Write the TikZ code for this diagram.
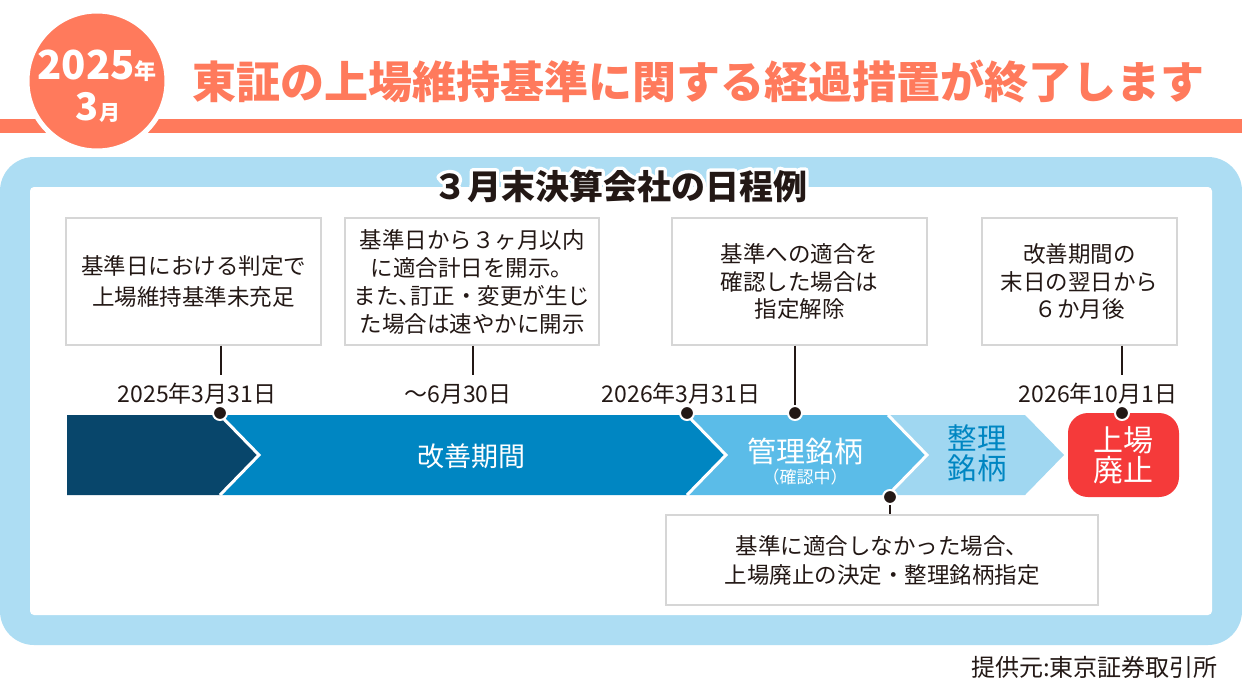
\documentclass[tikz,border=0pt]{standalone}
\usepackage{fontspec}
\setmainfont{Noto Sans CJK JP}
\newfontfamily\halofont{Noto Sans CJK JP}[FakeBold=20]
\usetikzlibrary{calc}
\definecolor{hdrorange}{HTML}{FF7A5C}
\definecolor{frameblue}{HTML}{ADDDF3}
\definecolor{navy}{HTML}{08466B}
\definecolor{midblue}{HTML}{0086C2}
\definecolor{ltblue}{HTML}{5BBCE8}
\definecolor{lterblue}{HTML}{A0D7F1}
\definecolor{alertred}{HTML}{F53A3A}
\definecolor{ink}{HTML}{231815}
\definecolor{boxgray}{HTML}{D6D6D6}
\tikzset{
  infobox/.style={draw=boxgray, line width=1.3, fill=white, align=center, text=ink, inner sep=0pt},
  boxfont/.style={font=\fontsize{22.5}{#1}\selectfont},
  datelbl/.style={text=ink, inner sep=0pt, font=\fontsize{23}{23}\selectfont},
  conn/.style={draw=ink, line width=2},
  tdot/.style={circle, fill=ink, draw=white, line width=2, minimum size=14, inner sep=0pt},
  bandtxt/.style={text=white, inner sep=0pt, align=center},
  sepline/.style={draw=white, line width=3, line join=miter},
}
\begin{document}
\begin{tikzpicture}[x=1pt,y=-1pt]
\useasboundingbox (0,0) rectangle (1242,683);
\fill[white] (0,0) rectangle (1242,683);

% header
\fill[hdrorange] (0,119) rectangle (1242,133);
\node[circle, fill=hdrorange, draw=white, line width=5, minimum size=140, inner sep=0pt] (badge) at (97,81) {};
\node[text=white, inner sep=0pt, font=\bfseries\fontsize{40}{40}\selectfont] (yr) at (97,66) {2025{\fontsize{22}{22}\selectfont 年}};
\node[text=white, inner sep=0pt, font=\bfseries\fontsize{38}{38}\selectfont] (mo) at (98,107) {3{\fontsize{21}{21}\selectfont 月}};
\node[text=hdrorange, inner sep=0pt, font=\bfseries\fontsize{44}{44}\selectfont] (title) at (698,82) {東証の上場維持基準に関する経過措置が終了します};

% frame
\fill[frameblue, rounded corners=34] (0,157) rectangle (1242,645);
\fill[white, rounded corners=4] (30,187) rectangle (1212,615);
\node[text=white, inner sep=0pt, font=\halofont\bfseries\fontsize{34}{34}\selectfont] (subhalo) at (620,186) {\pgfsetroundjoin ３月末決算会社の日程例};
\node[text=ink, inner sep=0pt, font=\bfseries\fontsize{34}{34}\selectfont] (sub) at (620,186) {３月末決算会社の日程例};

% band
\fill[navy] (67,415) -- (220,415) -- (259,455) -- (220,495) -- (67,495) -- cycle;
\fill[midblue] (220,415) -- (687,415) -- (726,455) -- (687,495) -- (220,495) -- (259,455) -- cycle;
\fill[ltblue] (687,415) -- (888,415) -- (927,455) -- (888,495) -- (687,495) -- (726,455) -- cycle;
\fill[lterblue] (888,415) -- (1025,415) -- (1064,455) -- (1025,495) -- (888,495) -- (927,455) -- cycle;
\draw[sepline] (220,415) -- (259,455) -- (220,495);
\draw[sepline] (687,415) -- (726,455) -- (687,495);
\draw[sepline] (888,415) -- (927,455) -- (888,495);
\node[rounded corners=20, fill=alertred, minimum width=111, minimum height=84, text=white, align=center, inner sep=0pt, font=\fontsize{30}{30}\selectfont] (haishi) at (1123.5,455) {上場\\廃止};

\node[bandtxt, font=\fontsize{27}{27}\selectfont] (kaizen) at (471,456) {改善期間};
\node[bandtxt, font=\fontsize{29}{29}\selectfont] (kanri) at (805,451) {管理銘柄};
\node[bandtxt, font=\fontsize{17}{17}\selectfont] (kakunin) at (805,477) {（確認中）};
\node[bandtxt, text=midblue, font=\fontsize{29.5}{30}\selectfont] (seiri) at (977,453) {整理\\銘柄};

% boxes
\node[infobox, boxfont=31, minimum width=255, minimum height=127] (b1) at (193.5,281.5) {基準日における判定で\\上場維持基準未充足};
\node[infobox, boxfont=28, minimum width=254, minimum height=127] (b2) at (472,281.5) {基準日から３ヶ月以内\\に適合計日を開示。\\また\makebox[0.5em][l]{、}訂正・変更が生じ\\た場合は速やかに開示};
\node[infobox, boxfont=27.5, minimum width=255, minimum height=127] (b3) at (799.5,281.5) {基準への適合を\\確認した場合は\\指定解除};
\node[infobox, boxfont=27.5, minimum width=195, minimum height=127] (b4) at (1079.5,281.5) {改善期間の\\末日の翌日から\\６か月後};
\node[infobox, boxfont=29, minimum width=432, minimum height=90] (b5) at (882,560) {基準に適合しなかった場合、\\上場廃止の決定・整理銘柄指定};

% dates
\node[datelbl] (t1) at (197,394) {2025年3月31日};
\node[datelbl] (t2) at (458,394) {～6月30日};
\node[datelbl] (t3) at (681,394) {2026年3月31日};
\node[datelbl] (t4) at (1098,394) {2026年10月1日};

% dots
\node[tdot] (d1) at (220,413) {};
\node[tdot] (d2) at (687,413) {};
\node[tdot] (d3) at (795,413) {};
\node[tdot] (d4) at (1122,413) {};
\node[tdot] (d5) at (890,497) {};

% connectors
\coordinate (e1) at (221,375);
\coordinate (e2) at (473,375);
\coordinate (e4) at (1122,375);
\draw[conn] (b1.south -| e1) -- (e1);
\draw[conn] (b2.south -| e2) -- (e2);
\draw[conn] (b3.south -| d3) -- (d3.north);
\draw[conn] (b4.south -| e4) -- (e4);
\draw[conn] (d5.south) -- (b5.north -| d5);

% source
\node[text=ink, anchor=east, inner sep=0pt, font=\fontsize{24}{24}\selectfont] (src) at (1218,667) {提供元:東京証券取引所};
\end{tikzpicture}
\end{document}
